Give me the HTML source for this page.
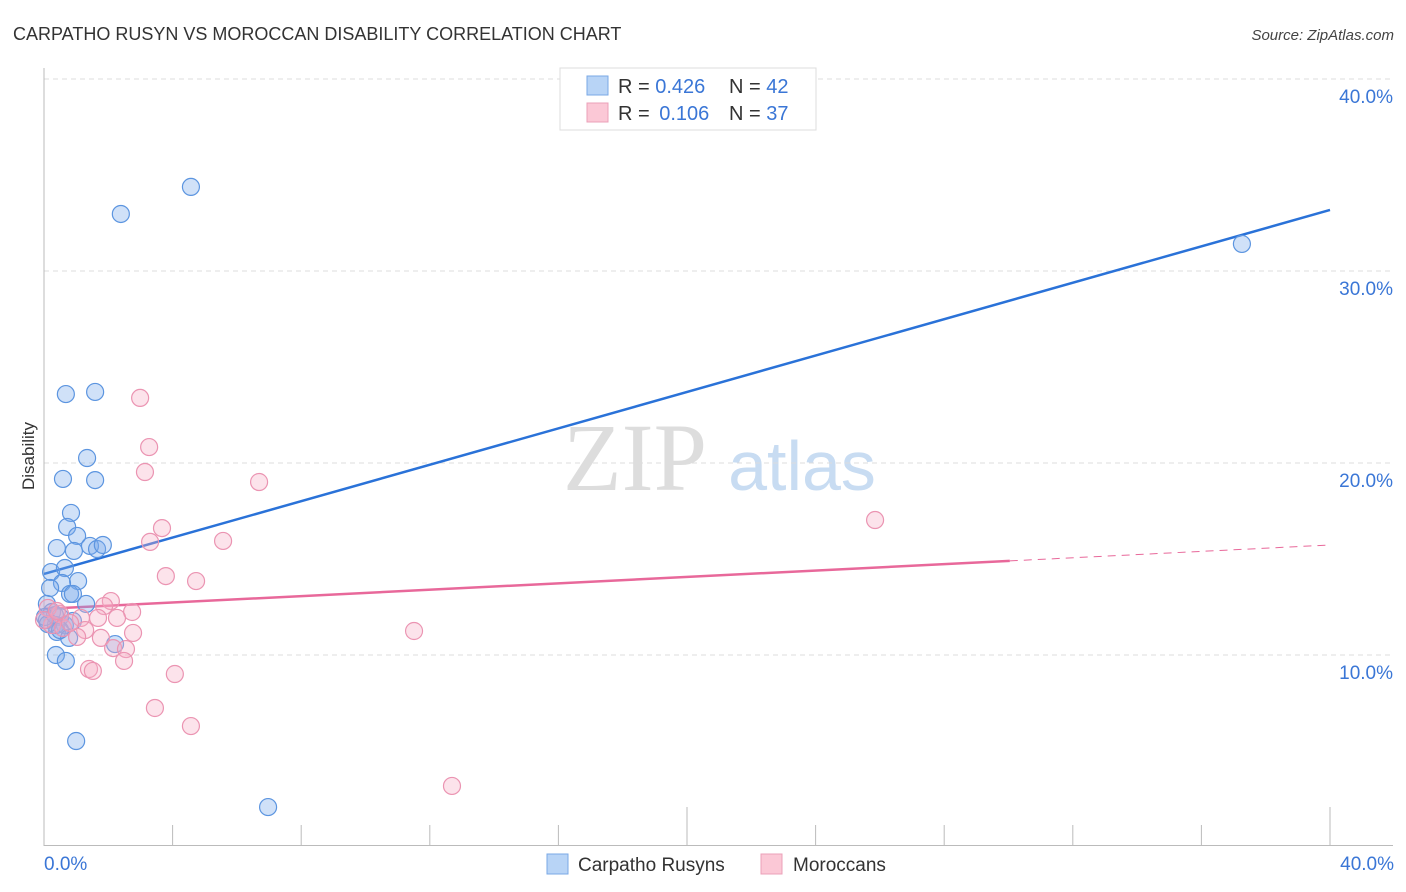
<!DOCTYPE html>
<html><head><meta charset="utf-8"><style>
body{margin:0;background:#fff;font-family:"Liberation Sans",sans-serif;}
svg{display:block}
</style></head><body>
<svg id="chart" width="1406" height="892" xmlns="http://www.w3.org/2000/svg">
<text x="13" y="40" font-size="18" fill="#333">CARPATHO RUSYN VS MOROCCAN DISABILITY CORRELATION CHART</text>
<text x="1394" y="40" font-size="15" font-style="italic" fill="#444" text-anchor="end">Source: ZipAtlas.com</text>
<text transform="translate(34,456) rotate(-90)" font-size="17" fill="#333" text-anchor="middle">Disability</text>
<g>
<text x="635" y="490" font-family="Liberation Serif,serif" font-size="96" fill="#ddd" text-anchor="middle">ZIP</text>
<text x="802" y="490" font-size="70" fill="#c8dcf2" text-anchor="middle">atlas</text>
</g>
<g id="grid"></g>
<g id="axes"></g>
<g id="lines"></g>
<g id="points"></g>
<g>
<rect x="560" y="68" width="256" height="62" fill="#fff" stroke="#ddd"/>
<rect x="587" y="76" width="21" height="19" fill="#b8d4f6" stroke="#7aa8e6"/>
<rect x="587" y="103" width="21" height="19" fill="#fbc8d6" stroke="#eba0b8"/>
<text x="618" y="93" font-size="20" fill="#333">R = <tspan fill="#3a76d6">0.426</tspan></text>
<text x="729" y="93" font-size="20" fill="#333">N = <tspan fill="#3a76d6">42</tspan></text>
<text x="618" y="120" font-size="20" fill="#333">R = <tspan fill="#3a76d6" dx="4">0.106</tspan></text>
<text x="729" y="120" font-size="20" fill="#333">N = <tspan fill="#3a76d6">37</tspan></text>
</g>
<g>
<rect x="547" y="854" width="21" height="20" fill="#b8d4f6" stroke="#7aa8e6"/>
<text x="578" y="871" font-size="19" fill="#333">Carpatho Rusyns</text>
<rect x="761" y="854" width="21" height="20" fill="#fbc8d6" stroke="#eba0b8"/>
<text x="793" y="871" font-size="19" fill="#333">Moroccans</text>
</g>
</svg>
<script>
const yTicks=[10,20,30,40];
const yTickLabels=["10.0%","20.0%","30.0%","40.0%"];
const blueX=[4.57,2.39,37.26,0.68,1.59,1.34,0.59,1.59,0.84,0.72,1.03,0.40,0.93,1.43,1.65,1.83,0.22,0.65,1.06,0.56,0.19,0.81,0.90,1.31,0.09,0.25,0.50,0.09,0.37,0.65,0.40,0.78,2.21,0.37,0.68,1.00,6.97,0.12,0.34,0.90,0.03,0.50];
const blueY=[34.38,32.97,31.41,23.59,23.70,20.26,19.17,19.11,17.40,16.67,16.20,15.57,15.42,15.68,15.52,15.73,14.32,14.53,13.85,13.75,13.49,13.18,13.18,12.66,12.66,12.24,11.98,11.82,11.56,11.56,11.20,10.89,10.57,10.00,9.69,5.52,2.08,11.61,12.08,11.77,11.98,11.30];
const pinkX=[2.99,3.27,3.14,6.69,25.85,3.67,3.30,5.57,3.79,4.73,2.08,1.87,2.74,1.68,2.27,1.15,0.50,0.12,2.77,1.77,1.28,1.03,11.51,2.15,2.55,2.49,1.40,1.52,4.07,3.45,4.57,12.69,0.25,0.59,0.81,0.00,0.40];
const pinkY=[23.39,20.83,19.53,19.01,17.03,16.61,15.89,15.94,14.11,13.85,12.81,12.55,12.24,11.93,11.93,11.93,12.14,12.45,11.15,10.89,11.30,10.94,11.25,10.36,10.31,9.69,9.27,9.17,9.01,7.24,6.30,3.18,11.56,11.41,11.67,11.82,12.29];
const blueTrend=[14.22,33.18];
const pinkTrend=[12.40,15.73];
const pinkSolidEnd=30.04;

const X0=44,X1=1330,Y0=847,PXPER=19.2;
const xs=v=>X0+(X1-X0)*v/40;
const ys=v=>Y0-v*PXPER;
const NS="http://www.w3.org/2000/svg";
function mk(tag,attrs,parent){const e=document.createElementNS(NS,tag);for(const k in attrs)e.setAttribute(k,attrs[k]);parent.appendChild(e);return e;}
const grid=document.getElementById('grid'),axes=document.getElementById('axes'),lines=document.getElementById('lines'),pts=document.getElementById('points');
yTicks.forEach((t,i)=>{
 const l=mk('line',{x1:44,x2:1393,y1:ys(t),y2:ys(t),stroke:'#ddd','stroke-dasharray':'5,4'},grid);
 
 
 const tx=mk('text',{x:1393,y:ys(t)+24,'font-size':19,fill:'#3a76d6','text-anchor':'end'},grid);
 tx.textContent=yTickLabels[i];
 
 
});
let a=mk('line',{x1:44,x2:44,y1:68,y2:846,stroke:'#bbb'},axes);


a=mk('line',{x1:44,x2:1393,y1:845.5,y2:845.5,stroke:'#bbb'},axes);


for(let i=1;i<=10;i++){
 const v=i*4;const major=(i==5||i==10);
 const t=mk('line',{x1:xs(v),x2:xs(v),y1:major?807:825,y2:845,stroke:'#bbb'},axes);
 
 
}
let t0=mk('text',{x:44,y:870,'font-size':19,fill:'#3a76d6'},axes);t0.textContent='0.0%';


t0=mk('text',{x:1394,y:870,'font-size':19,fill:'#3a76d6','text-anchor':'end'},axes);t0.textContent='40.0%';



let ln=mk('line',{x1:xs(0),y1:ys(blueTrend[0]),x2:xs(40),y2:ys(blueTrend[1]),stroke:'#2a72d8','stroke-width':2.5},lines);


const pm=pinkTrend[0]+(pinkTrend[1]-pinkTrend[0])*pinkSolidEnd/40;
ln=mk('line',{x1:xs(0),y1:ys(pinkTrend[0]),x2:xs(pinkSolidEnd),y2:ys(pm),stroke:'#e8689a','stroke-width':2.5},lines);


ln=mk('line',{x1:xs(pinkSolidEnd),y1:ys(pm),x2:xs(40),y2:ys(pinkTrend[1]),stroke:'#e8689a','stroke-width':1,'stroke-dasharray':'8,6'},lines);



blueX.forEach((x,i)=>{
 const c=mk('circle',{cx:xs(x),cy:ys(blueY[i]),r:8.5,fill:'rgba(120,170,235,0.35)',stroke:'#5c95e0','stroke-width':1.2},pts);
 
 
});
pinkX.forEach((x,i)=>{
 const c=mk('circle',{cx:xs(x),cy:ys(pinkY[i]),r:8.5,fill:'rgba(245,175,198,0.35)',stroke:'#eb94b2','stroke-width':1.2},pts);
 
 
});
</script>
</body></html>
